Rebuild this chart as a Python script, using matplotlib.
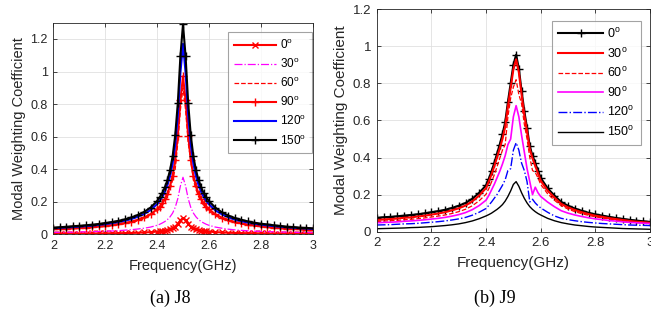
import matplotlib
matplotlib.use('Agg')
import matplotlib.pyplot as plt

plt.rcParams['font.family'] = ['Liberation Sans', 'DejaVu Sans']
plt.rcParams['mathtext.fontset'] = 'custom'
plt.rcParams['mathtext.rm'] = 'Liberation Sans'

# Frequency samples (GHz), shared by both panels
freq = [2.000, 2.025, 2.050, 2.075, 2.100, 2.125, 2.150, 2.175, 2.200, 2.225, 2.250, 2.275, 2.300, 2.325, 2.350, 2.375, 2.400,
        2.41, 2.42, 2.43, 2.44, 2.45, 2.46, 2.47, 2.48, 2.49, 2.50, 2.51, 2.52, 2.53, 2.54, 2.55, 2.56, 2.57, 2.58, 2.59,
        2.600, 2.625, 2.650, 2.675, 2.700, 2.725, 2.750, 2.775, 2.800, 2.825, 2.850, 2.875, 2.900, 2.925, 2.950, 2.975, 3.000]

angles = [0, 30, 60, 90, 120, 150]

# (a) J8
j8_0 = [0.003, 0.003, 0.004, 0.004, 0.004, 0.004, 0.005, 0.005, 0.005, 0.006, 0.006, 0.007, 0.008, 0.009, 0.011, 0.013, 0.016,
        0.018, 0.020, 0.022, 0.026, 0.031, 0.037, 0.047, 0.063, 0.085, 0.100, 0.085, 0.063, 0.047, 0.037, 0.031, 0.026, 0.022, 0.020, 0.018,
        0.016, 0.013, 0.011, 0.009, 0.008, 0.007, 0.006, 0.006, 0.005, 0.005, 0.004, 0.004, 0.004, 0.003, 0.003, 0.003, 0.003]
j8_30 = [0.011, 0.012, 0.012, 0.013, 0.014, 0.015, 0.016, 0.017, 0.019, 0.020, 0.022, 0.025, 0.028, 0.032, 0.037, 0.044, 0.055,
         0.061, 0.069, 0.078, 0.090, 0.107, 0.130, 0.165, 0.219, 0.297, 0.350, 0.297, 0.219, 0.165, 0.130, 0.107, 0.090, 0.078, 0.069, 0.061,
         0.055, 0.044, 0.037, 0.031, 0.027, 0.024, 0.021, 0.019, 0.018, 0.016, 0.015, 0.014, 0.013, 0.012, 0.011, 0.011, 0.010]
j8_60 = [0.029, 0.030, 0.032, 0.034, 0.036, 0.038, 0.041, 0.044, 0.048, 0.052, 0.058, 0.064, 0.072, 0.082, 0.095, 0.114, 0.142,
         0.158, 0.176, 0.201, 0.232, 0.275, 0.334, 0.400, 0.563, 0.763, 0.900, 0.763, 0.563, 0.450, 0.334, 0.275, 0.232, 0.201, 0.176, 0.158,
         0.142, 0.113, 0.095, 0.080, 0.070, 0.062, 0.055, 0.050, 0.045, 0.042, 0.038, 0.035, 0.033, 0.031, 0.029, 0.027, 0.025]
j8_90 = [0.031, 0.033, 0.034, 0.036, 0.039, 0.041, 0.044, 0.048, 0.052, 0.056, 0.062, 0.069, 0.077, 0.088, 0.103, 0.123, 0.153,
         0.170, 0.190, 0.216, 0.250, 0.296, 0.360, 0.457, 0.606, 0.823, 0.970, 0.823, 0.606, 0.457, 0.360, 0.296, 0.250, 0.216, 0.190, 0.170,
         0.153, 0.122, 0.102, 0.087, 0.075, 0.067, 0.059, 0.054, 0.049, 0.045, 0.041, 0.038, 0.035, 0.033, 0.031, 0.029, 0.027]
j8_120 = [0.037, 0.039, 0.042, 0.044, 0.047, 0.050, 0.053, 0.058, 0.062, 0.068, 0.075, 0.083, 0.093, 0.107, 0.124, 0.149, 0.185,
          0.205, 0.229, 0.261, 0.302, 0.357, 0.434, 0.551, 0.731, 0.992, 1.170, 0.992, 0.731, 0.551, 0.434, 0.357, 0.302, 0.261, 0.229, 0.205,
          0.185, 0.147, 0.123, 0.104, 0.090, 0.080, 0.072, 0.065, 0.059, 0.054, 0.050, 0.046, 0.043, 0.040, 0.037, 0.035, 0.033]
j8_150 = [0.041, 0.043, 0.046, 0.049, 0.052, 0.055, 0.059, 0.063, 0.069, 0.075, 0.082, 0.091, 0.103, 0.118, 0.137, 0.164, 0.204,
          0.226, 0.253, 0.288, 0.333, 0.393, 0.479, 0.608, 0.806, 1.094, 1.290, 1.094, 0.806, 0.608, 0.479, 0.393, 0.333, 0.288, 0.253, 0.226,
          0.204, 0.163, 0.135, 0.115, 0.100, 0.089, 0.079, 0.071, 0.065, 0.060, 0.055, 0.051, 0.047, 0.044, 0.041, 0.039, 0.036]

# (b) J9
j9_0 = [0.075, 0.078, 0.080, 0.083, 0.087, 0.090, 0.094, 0.099, 0.105, 0.111, 0.118, 0.128, 0.140, 0.155, 0.178, 0.210, 0.250,
        0.285, 0.325, 0.370, 0.420, 0.470, 0.525, 0.590, 0.700, 0.800, 0.900, 0.955, 0.880, 0.760, 0.650, 0.560, 0.460, 0.410, 0.370, 0.330,
        0.290, 0.235, 0.195, 0.160, 0.140, 0.125, 0.113, 0.102, 0.093, 0.087, 0.080, 0.074, 0.069, 0.064, 0.060, 0.056, 0.053]
j9_30 = [0.063, 0.066, 0.068, 0.071, 0.075, 0.077, 0.082, 0.086, 0.092, 0.098, 0.105, 0.115, 0.126, 0.141, 0.164, 0.195, 0.235,
         0.270, 0.309, 0.352, 0.400, 0.448, 0.500, 0.565, 0.675, 0.775, 0.875, 0.930, 0.860, 0.740, 0.630, 0.540, 0.445, 0.395, 0.355, 0.315,
         0.275, 0.222, 0.184, 0.150, 0.131, 0.117, 0.105, 0.095, 0.086, 0.080, 0.073, 0.068, 0.063, 0.058, 0.054, 0.051, 0.048]
j9_60 = [0.055, 0.057, 0.059, 0.061, 0.064, 0.067, 0.070, 0.074, 0.079, 0.084, 0.090, 0.098, 0.108, 0.121, 0.140, 0.167, 0.202,
         0.232, 0.268, 0.306, 0.350, 0.395, 0.440, 0.470, 0.620, 0.720, 0.780, 0.820, 0.740, 0.690, 0.580, 0.500, 0.400, 0.330, 0.320, 0.290,
         0.255, 0.205, 0.170, 0.140, 0.122, 0.108, 0.097, 0.088, 0.080, 0.074, 0.068, 0.062, 0.058, 0.054, 0.050, 0.046, 0.042]
j9_90 = [0.048, 0.050, 0.051, 0.053, 0.056, 0.058, 0.061, 0.064, 0.068, 0.072, 0.077, 0.084, 0.092, 0.103, 0.119, 0.141, 0.170,
         0.195, 0.225, 0.255, 0.290, 0.325, 0.365, 0.410, 0.470, 0.500, 0.620, 0.680, 0.620, 0.520, 0.430, 0.340, 0.270, 0.200, 0.240, 0.210,
         0.190, 0.160, 0.135, 0.113, 0.100, 0.090, 0.082, 0.075, 0.069, 0.065, 0.060, 0.057, 0.053, 0.050, 0.048, 0.046, 0.044]
j9_120 = [0.036, 0.037, 0.038, 0.040, 0.042, 0.043, 0.045, 0.048, 0.051, 0.054, 0.058, 0.063, 0.069, 0.077, 0.089, 0.105, 0.125,
          0.142, 0.160, 0.180, 0.200, 0.225, 0.250, 0.280, 0.330, 0.340, 0.440, 0.480, 0.440, 0.370, 0.330, 0.270, 0.160, 0.175, 0.155, 0.140,
          0.128, 0.105, 0.085, 0.072, 0.065, 0.059, 0.054, 0.050, 0.047, 0.044, 0.042, 0.040, 0.038, 0.036, 0.035, 0.034, 0.033]
j9_150 = [0.016, 0.017, 0.018, 0.019, 0.020, 0.022, 0.023, 0.025, 0.027, 0.030, 0.033, 0.037, 0.042, 0.049, 0.058, 0.070, 0.085,
          0.092, 0.100, 0.110, 0.120, 0.132, 0.146, 0.165, 0.190, 0.220, 0.255, 0.270, 0.245, 0.210, 0.180, 0.155, 0.135, 0.120, 0.108, 0.098,
          0.090, 0.072, 0.059, 0.049, 0.042, 0.036, 0.032, 0.028, 0.025, 0.023, 0.021, 0.019, 0.017, 0.016, 0.015, 0.014, 0.013]

xticks = [2, 2.2, 2.4, 2.6, 2.8, 3]
xticklabels = ['2', '2.2', '2.4', '2.6', '2.8', '3']
yticks = [0, 0.2, 0.4, 0.6, 0.8, 1, 1.2]
yticklabels = ['0', '0.2', '0.4', '0.6', '0.8', '1', '1.2']


def deg(a):
    return f'{a}$^\\mathregular{{o}}$'


def style_axes(ax, ymax, fs_tick, fs_label):
    ax.set_xlim(2, 3)
    ax.set_ylim(0, ymax)
    ax.set_xticks(xticks)
    ax.set_xticklabels(xticklabels)
    ax.set_yticks(yticks)
    ax.set_yticklabels(yticklabels)
    ax.grid(True, color='0.88', linewidth=0.6)
    ax.set_axisbelow(True)
    ax.tick_params(direction='in', length=3, width=0.6, top=True, right=True,
                   labelsize=fs_tick, colors='0.15', pad=4)
    for s in ax.spines.values():
        s.set_color('0.15')
        s.set_linewidth(0.6)
    ax.set_xlabel('Frequency(GHz)', fontsize=fs_label, color='0.15', labelpad=5)
    ax.set_ylabel('Modal Weighting Coefficient', fontsize=fs_label, color='0.15', labelpad=3)


fig = plt.figure(figsize=(6.51, 3.2), dpi=100)

# Left panel: J8
ax1 = fig.add_axes([0.0819, 0.268, 0.3984, 0.661])
ax1.plot(freq, j8_0, color='red', lw=1.5, marker='x', ms=4, mew=1, label=deg(angles[0]))
ax1.plot(freq, j8_30, color='magenta', lw=0.9, ls='-.', label=deg(angles[1]))
ax1.plot(freq, j8_60, color='red', lw=0.9, ls='--', label=deg(angles[2]))
ax1.plot(freq, j8_90, color='red', lw=1.5, marker='+', ms=6, mew=1, label=deg(angles[3]))
ax1.plot(freq, j8_120, color='blue', lw=1.5, label=deg(angles[4]))
ax1.plot(freq, j8_150, color='black', lw=1.5, marker='+', ms=6, mew=1, label=deg(angles[5]))
style_axes(ax1, 1.3, 9, 10.5)
leg1 = ax1.legend(loc='upper right', bbox_to_anchor=(0.996, 0.955), fontsize=8.5, frameon=True,
                  fancybox=False, edgecolor='0.55', borderaxespad=0, handlelength=3.6,
                  labelspacing=0.45, borderpad=0.5, handletextpad=0.3, markerscale=1)
leg1.get_frame().set_linewidth(0.8)

# Right panel: J9
ax2 = fig.add_axes([0.5786, 0.276, 0.420, 0.695])
ax2.plot(freq, j9_0, color='black', lw=1.5, marker='+', ms=6, mew=1, label=deg(angles[0]))
ax2.plot(freq, j9_30, color='red', lw=1.5, label=deg(angles[1]))
ax2.plot(freq, j9_60, color='red', lw=0.9, ls='--', label=deg(angles[2]))
ax2.plot(freq, j9_90, color='magenta', lw=1.2, label=deg(angles[3]))
ax2.plot(freq, j9_120, color='blue', lw=1.0, ls='-.', label=deg(angles[4]))
ax2.plot(freq, j9_150, color='black', lw=1.0, label=deg(angles[5]))
style_axes(ax2, 1.2, 9.5, 11)
leg2 = ax2.legend(loc='upper right', bbox_to_anchor=(0.966, 0.949), fontsize=9, frameon=True,
                  fancybox=False, edgecolor='0.55', borderaxespad=0, handlelength=3.6,
                  labelspacing=0.45, borderpad=0.5, handletextpad=0.3, markerscale=1)
leg2.get_frame().set_linewidth(0.8)

# Captions
fig.text(170 / 651, 0.068, '(a) J8', ha='center', va='center', fontsize=13,
         family=['Liberation Serif', 'DejaVu Serif'])
fig.text(495 / 651, 0.068, '(b) J9', ha='center', va='center', fontsize=13,
         family=['Liberation Serif', 'DejaVu Serif'])

fig.savefig('out.png', dpi=100)
